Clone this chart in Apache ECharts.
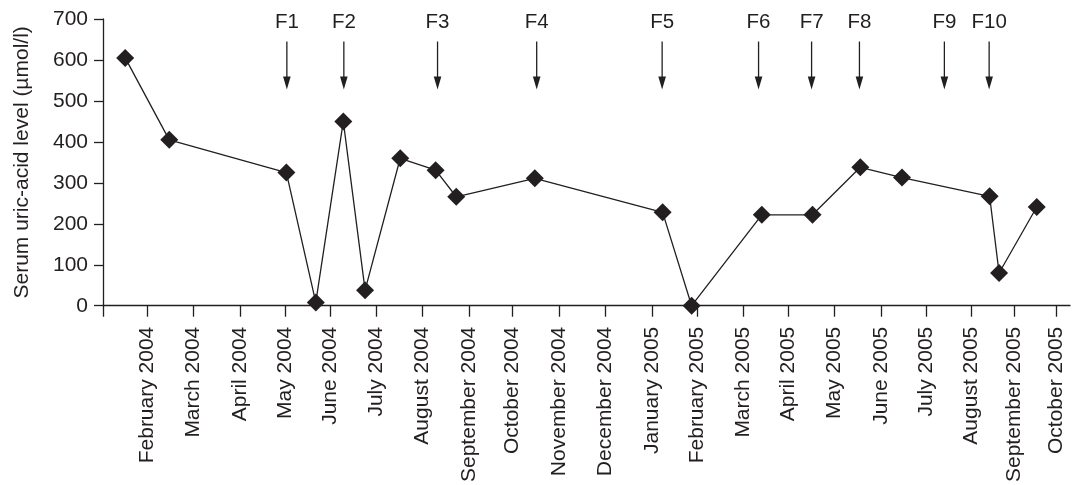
<!DOCTYPE html>
<html>
<head>
<meta charset="utf-8">
<script src="https://cdn.jsdelivr.net/npm/echarts@6/dist/echarts.min.js"></script>
<style>
html,body{margin:0;padding:0;background:#fff;}
#chart{width:1086px;height:485px;}
</style>
</head>
<body>
<div id="chart"></div>
<script>
// x is a month scale: 0 = start of the axis (January 2004)
const monthLabels = ['February 2004','March 2004','April 2004','May 2004','June 2004','July 2004',
  'August 2004','September 2004','October 2004','November 2004','December 2004','January 2005',
  'February 2005','March 2005','April 2005','May 2005','June 2005','July 2005','August 2005',
  'September 2005','October 2005'];
const monthTicks = [0.970, 1.983, 3.028, 4.019, 4.996, 6.025, 7.030, 8.059, 9.022, 10.042, 11.055,
  12.098, 13.090, 14.103, 15.095, 16.102, 17.137, 18.128, 19.127, 20.073, 20.994];
const sampleMonths = [0.489, 1.459, 4.039, 4.687, 5.293, 5.773, 6.547, 7.327, 7.781, 9.511, 12.327,
  12.966, 14.511, 15.628, 16.681, 17.600, 19.530, 19.738, 20.568];
const uricAcid    = [605, 405, 325, 8, 450, 38, 360, 331, 266, 311, 228, 0, 222, 222, 338, 313, 267, 80, 241];
const arrowLabels = ['F1','F2','F3','F4','F5','F6','F7','F8','F9','F10'];
const arrowMonths = [4.050, 5.305, 7.369, 9.553, 12.316, 14.440, 15.608, 16.662, 18.533, 19.519];
const yTicks = [0, 100, 200, 300, 400, 500, 600, 700];

const INK = '#231f20';
const FONT = '"Liberation Sans", Arial, Helvetica, sans-serif';

const chart = echarts.init(document.getElementById('chart'), null, {renderer: 'canvas'});

chart.setOption({
  animation: false,
  backgroundColor: '#fff',
  grid: {left: 103, top: 19, right: 16, bottom: 176, containLabel: false},
  xAxis: {
    type: 'value', min: 0, max: 21.3,
    axisLine: {show: true, lineStyle: {color: INK, width: 1.3}},
    axisTick: {show: true, length: 11, lineStyle: {color: INK, width: 1.3}, customValues: [0].concat(monthTicks)},
    axisLabel: {
      show: true, rotate: 90, margin: 21, fontSize: 21, fontFamily: FONT, color: INK,
      customValues: monthTicks,
      formatter: v => {
        const i = monthTicks.findIndex(t => Math.abs(t - v) < 1e-6);
        return i >= 0 ? monthLabels[i] : '';
      }
    },
    splitLine: {show: false}
  },
  yAxis: {
    type: 'value', min: yTicks[0], max: yTicks[yTicks.length - 1], interval: 100,
    name: 'Serum uric-acid level (µmol/l)', nameLocation: 'middle', nameGap: 70,
    nameTextStyle: {fontSize: 21, fontFamily: FONT, color: INK},
    axisLine: {show: true, lineStyle: {color: INK, width: 1.3}},
    axisTick: {show: true, length: 9, lineStyle: {color: INK, width: 1.3}},
    axisLabel: {fontSize: 21, fontFamily: FONT, color: INK, margin: 15},
    splitLine: {show: false}
  },
  series: [
    {
      type: 'line',
      data: sampleMonths.map((m, i) => [m, uricAcid[i]]),
      symbol: 'diamond', symbolSize: [18, 18], showAllSymbol: true,
      lineStyle: {color: INK, width: 1.3},
      itemStyle: {color: INK},
      z: 3
    },
    {
      type: 'custom',
      clip: false,
      data: arrowMonths.map(m => [m, 645]),
      renderItem: function (params, api) {
        const x = api.value(0);
        const top = api.coord([x, 645]);
        const tip = api.coord([x, 528]);
        const lab = api.coord([x, 691]);
        return {
          type: 'group',
          children: [
            {type: 'line', shape: {x1: top[0], y1: top[1], x2: tip[0], y2: tip[1] - 10},
             style: {stroke: INK, lineWidth: 1.3}},
            {type: 'polygon', shape: {points: [[tip[0] - 3.8, tip[1] - 13], [tip[0] + 3.8, tip[1] - 13], [tip[0], tip[1]]]},
             style: {fill: INK}},
            {type: 'text', x: lab[0], y: lab[1],
             style: {text: arrowLabels[params.dataIndex], fontSize: 20.5, fontFamily: FONT, fill: INK,
                     align: 'center', verticalAlign: 'middle'}}
          ]
        };
      },
      z: 4
    }
  ]
});
</script>
</body>
</html>
